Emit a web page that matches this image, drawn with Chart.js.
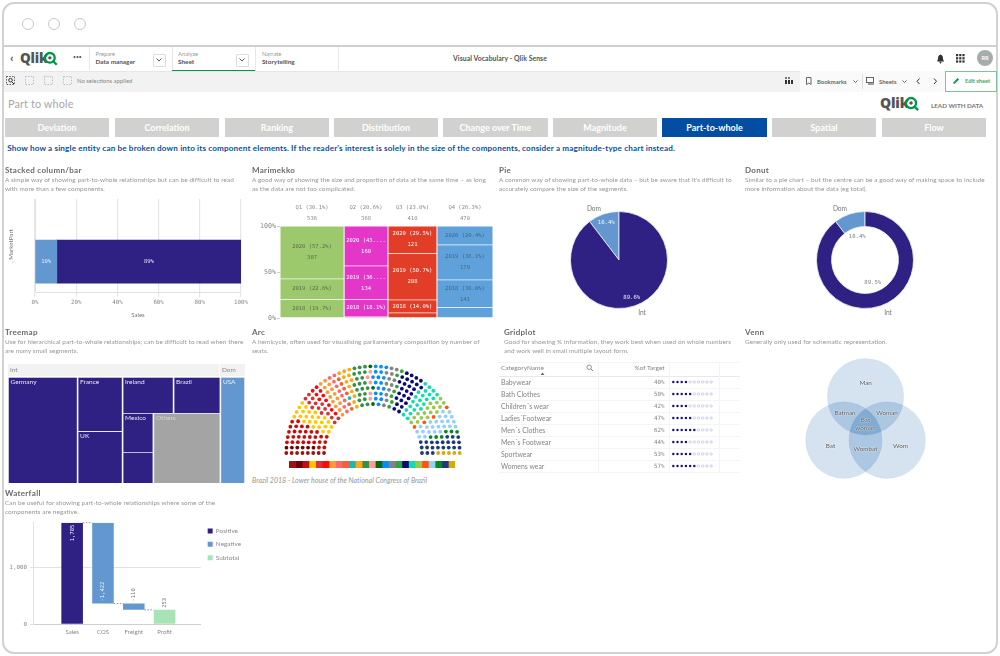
<!DOCTYPE html>
<html><head><meta charset="utf-8">
<script src="https://cdn.jsdelivr.net/npm/chart.js@4/dist/chart.umd.min.js"></script>
<style>
html,body{margin:0;padding:0;background:#fff;width:1000px;height:656px;overflow:hidden}
#page{position:absolute;left:0;top:0;width:1000px;height:656px;font-family:Lato,"Noto Sans",sans-serif;color:#777;filter:blur(.35px)}
#page div,#page canvas,#page svg{position:absolute}
.t{white-space:nowrap;line-height:10px;height:10px}
.h{font-weight:700;font-size:8px;color:#6a6a6a;letter-spacing:.3px}
.d{font-size:6.45px;color:#969696;letter-spacing:.06px}
.nav{background:#d1d1d0;color:#fff;font-weight:700;font-size:9px;text-align:center;line-height:19px;height:19px;top:118px}
.g{font-size:6.5px;color:#858585}
.r{font-size:6.9px;color:#858585}
.v{font-size:6.3px;color:#555;text-align:center;text-shadow:0 0 1.5px #fff,0 0 1.5px #fff;transform:translate(-50%,0)}
</style></head><body><div id="page"></div>
<script>
// ---------- data ----------
const marketParts = ['Dom', 'Int'];
const stackedShares = [10.6, 89.4];
const stackedText = ['10%', '89%'];

const quarters = ['Q1', 'Q2', 'Q3', 'Q4'];
const quarterShare = [30.1, 20.6, 23.0, 26.3];
const quarterTotal = [536, 368, 410, 470];
const mekkoYears = ['', '2018', '2019', '2020'];
const mekkoShareBase = [0.5, 2.2, 5.8, 11.5];
const mekkoShare2018 = [19.7, 18.1, 14.0, 30.0];
const mekkoShare2019 = [22.6, 36.4, 50.7, 38.1];
const mekkoShare2020 = [57.2, 43.3, 29.5, 20.4];
const mekkoValueBase = [2, 7, 24, 54];
const mekkoValue2018 = [106, 67, 57, 141];
const mekkoValue2019 = [121, 134, 208, 179];
const mekkoValue2020 = [307, 160, 121, 96];

const pieLabels = ['Dom', 'Int'];
const pieValues = [10.4, 89.6];
const donutValues = [10.4, 89.5];

const treeNames = ['Germany', 'France', 'UK', 'Ireland', 'Brazil', 'Mexico', '', 'Others', 'USA'];
const treeValues = [29.4, 9.7, 9.3, 7.3, 6.7, 4.8, 3.8, 18.7, 10.4];

const partySeats = [8, 6, 30, 24, 14, 10, 14, 9, 6, 1, 12, 20, 5, 3, 17, 12, 7, 26, 22, 16, 4, 24, 6, 22, 5];
const partyColors = ['#a01010', '#6e0404', '#c80c0c', '#ffc800', '#d83434', '#fb0a0a', '#ff9a35', '#ff6868', '#ee6238', '#18b8b8', '#ffa812', '#379048', '#ff9a9a', '#056a05', '#0a8cff', '#848484', '#33a43f', '#0a0a78', '#12deaa', '#99c84e', '#ff5510', '#93d0ff', '#078a20', '#1f3a7a', '#d8aa08'];

const gridCategories = ['Babywear', 'Bath Clothes', "Children´s wear", "Ladies´Footwear", "Men´s Clothes", "Men´s Footwear", 'Sportwear', 'Womens wear'];
const gridPercents = [40, 50, 42, 47, 62, 44, 53, 57];

const vennNames = ['Bat', 'Man', 'Wom'];
const vennX = [-0.5, 0, 0.5];
const vennY = [0, 1, 0];

const wfLabels = ['Sales', 'COS', 'Freight', 'Profit'];
const wfValues = [1785, -1422, -110, 253];

const navItems = ['Deviation', 'Correlation', 'Ranking', 'Distribution', 'Change over Time', 'Magnitude', 'Part-to-whole', 'Spatial', 'Flow'];

// ---------- page helpers ----------
const page = document.getElementById('page');
function box(x, y, w, h, css) { const e = document.createElement('div'); e.style.cssText = `left:${x}px;top:${y}px;width:${w}px;height:${h}px;${css || ''}`; page.appendChild(e); return e; }
function t(x, y, s, cls, css) { const e = document.createElement('div'); e.className = 't ' + (cls || ''); e.textContent = s; e.style.cssText = `left:${x}px;top:${y - 5}px;${css || ''}`; page.appendChild(e); return e; }
function svg(x, y, w, h, inner) { const d = document.createElement('div'); d.style.cssText = `left:${x}px;top:${y}px;width:${w}px;height:${h}px`; d.innerHTML = `<svg width="${w}" height="${h}" viewBox="0 0 ${w} ${h}" style="left:0;top:0">${inner}</svg>`; page.appendChild(d); }
function logo(x, y, s, col) {
  t(x, y, 'Qlik', '', `font-size:${s}px;font-weight:900;color:${col};letter-spacing:-.2px;font-family:"Noto Sans"`);
  const cx = x + s * 2.23, r = s * .36;
  svg(cx - r - 3, y - r - 3, 2 * r + 8, 2 * r + 8, `<circle cx="${r + 3}" cy="${r + 3}" r="${r}" fill="none" stroke="#009845" stroke-width="${s * .17}"/><circle cx="${r + 3}" cy="${r + 3}" r="${r * .35}" fill="#555"/><path d="M${r * 1.55 + 3} ${r * 1.55 + 3}L${2 * r + 5} ${2 * r + 5}" stroke="#009845" stroke-width="${s * .17}"/>`);
}

// frame & chrome
box(2, 2, 992, 648, 'border:2px solid #d2d2d2;border-radius:12px;background:#fff');
[28, 54, 80].forEach(x => box(x - 6, 18, 10, 10, 'border:1.5px solid #c8c8c8;border-radius:50%;background:#fff'));
box(3, 45, 994, 2, 'background:#cfcfcf');
box(4, 47, 992, 23.5, 'background:#fff');
box(172, 69.5, 83, 1.5, 'background:#009845;z-index:2');
[89, 172, 255, 338].forEach(x => box(x, 47, .6, 23, 'background:#e6e6e6'));
t(10, 58, '‹', '', 'font-size:12px;font-weight:700;color:#555');
logo(20, 58, 13.5, '#555');
t(73, 57, '•••', '', 'font-size:5px;color:#555');
t(95.5, 53.5, 'Prepare', '', 'font-size:5.8px;color:#999');
t(95.5, 62, 'Data manager', '', 'font-size:6.4px;color:#555;font-weight:700');
t(178, 53.5, 'Analyze', '', 'font-size:5.8px;color:#999');
t(178, 62, 'Sheet', '', 'font-size:6.4px;color:#555;font-weight:700');
t(262, 53.5, 'Narrate', '', 'font-size:5.8px;color:#999');
t(262, 62, 'Storytelling', '', 'font-size:6.4px;color:#555;font-weight:700');
[153, 236].forEach(x => { box(x, 54, 11, 11, 'border:.7px solid #ddd;border-radius:1px'); svg(x + 3, 58, 7, 4, '<path d="M.5 .5L3 3L5.5 .5" fill="none" stroke="#444" stroke-width=".9"/>'); });
t(453, 58, 'Visual Vocabulary - Qlik Sense', '', 'font-size:6.9px;color:#555;font-weight:700;letter-spacing:.05px');
svg(936, 54, 9, 10, '<path d="M4.5 .5C2.3 1 2 3 2 5L1 7.5H8L7 5C7 3 6.7 1 4.5 .5Z" fill="#333"/><circle cx="4.5" cy="8.6" r="1" fill="#333"/>');
svg(956, 54, 9, 9, [0, 1, 2].flatMap(i => [0, 1, 2].map(j => `<rect x="${i * 3.2}" y="${j * 3.2}" width="2.2" height="2.2" fill="#333"/>`)).join(''));
box(977, 50, 16, 16, 'background:#a3adad;border-radius:50%;color:#fff;font-size:5.5px;text-align:center;line-height:16px;font-weight:700').textContent = 'RR';
box(4, 71, 992, 21, 'background:#f2f2f2');
box(4, 70.5, 992, .6, 'background:#e6e6e6');
box(800, 71, 145, 21, 'background:#fafafa');
svg(6, 76, 10, 10, '<rect x=".5" y=".5" width="8" height="8" fill="none" stroke="#555" stroke-dasharray="1.4 1.4"/><circle cx="4.5" cy="4.2" r="1.8" fill="none" stroke="#333"/><path d="M6 6L8 8" stroke="#333"/>');
[25, 44, 63].forEach(x => svg(x, 76, 10, 10, '<rect x=".5" y=".5" width="8" height="8" fill="none" stroke="#bbb" stroke-dasharray="1.4 1.4"/>'));
t(77, 81, 'No selections applied', '', 'font-size:5.9px;color:#888');
svg(785, 77, 9, 9, '<rect x="0" y="0" width="2" height="2" fill="#777"/><rect x="3" y="0" width="2" height="2" fill="#777"/><rect x="0" y="3" width="2" height="4" fill="#333"/><rect x="3" y="3" width="2" height="4" fill="#333"/><rect x="6" y="3" width="2" height="4" fill="#333"/>');
svg(806, 77, 6, 9, '<path d="M.5 .5H5V7.5L2.8 6L.5 7.5Z" fill="none" stroke="#444" stroke-width=".8"/>');
t(817, 82, 'Bookmarks', '', 'font-size:5.9px;color:#666;font-weight:700');
svg(853, 80, 6, 4, '<path d="M.5 .5L2.5 2.5L4.5 .5" fill="none" stroke="#444" stroke-width=".8"/>');
box(862, 74, .6, 15, 'background:#ddd');
svg(866, 77, 9, 8, '<rect x=".5" y=".5" width="7" height="5" fill="none" stroke="#444" stroke-width=".8"/><path d="M2 7H8" stroke="#444"/>');
t(879, 82, 'Sheets', '', 'font-size:5.9px;color:#666;font-weight:700');
svg(902, 80, 6, 4, '<path d="M.5 .5L2.5 2.5L4.5 .5" fill="none" stroke="#444" stroke-width=".8"/>');
svg(916, 78, 5, 7, '<path d="M3.5 .5L1 3.3L3.5 6" fill="none" stroke="#333" stroke-width="1"/>');
svg(933, 78, 5, 7, '<path d="M1 .5L3.5 3.3L1 6" fill="none" stroke="#333" stroke-width="1"/>');
box(945, 70.5, 52, 21, 'border:.8px solid #7cc59b;background:#fff;box-sizing:border-box');
svg(952, 77, 8, 8, '<path d="M1 6L5.5 1L7 2.5L2.5 7Z" fill="#0a9a4b"/>');
t(965, 81, 'Edit sheet', '', 'font-size:5.7px;color:#3aa869;font-weight:700');
t(8, 103.5, 'Part to whole', '', 'font-size:10.9px;color:#a8a8a8;letter-spacing:.1px');
logo(880, 103, 14, '#555');
t(931, 105.5, 'LEAD WITH DATA', '', 'font-size:6.3px;color:#777;font-weight:700;letter-spacing:-.02px');
const navX = [5, 115, 225, 334, 443, 553, 662, 772, 882], navW = [104, 104, 104, 104, 105, 104, 105, 104, 104];
navItems.forEach((n, i) => { const b = box(navX[i], 118, navW[i], 19, ''); b.className = 'nav'; b.textContent = n; if (n === 'Part-to-whole') b.style.background = '#034ea2'; });
t(7.3, 148, "Show how a single entity can be broken down into its component elements. If the reader's interest is solely in the size of the components, consider a magnitude-type chart instead.", '', 'font-size:8.15px;font-weight:700;color:#0b4fa0;letter-spacing:.146px');

[[5, 170, 'Stacked column/bar', 'A simple way of showing part-to-whole relationships but can be difficult to read', 'with more than a few components.'],
 [252, 170, 'Marimekko', 'A good way of showing the size and proportion of data at the same time – as long', 'as the data are not too complicated.'],
 [499, 170, 'Pie', "A common way of showing part-to-whole data – but be aware that it's difficult to", 'accurately compare the size of the segments.'],
 [745, 170, 'Donut', 'Similar to a pie chart – but the centre can be a good way of making space to include', 'more information about the data (eg total).'],
 [5, 332, 'Treemap', 'Use for hierarchical part-to-whole relationships; can be difficult to read when there', 'are many small segments.'],
 [252, 332, 'Arc', 'A hemicycle, often used for visualising parliamentary composition by number of', 'seats.'],
 [504, 332, 'Gridplot', 'Good for showing % information, they work best when used on whole numbers', 'and work well in small multiple layout form.'],
 [745, 332, 'Venn', 'Generally only used for schematic representation.', ''],
 [5, 493, 'Waterfall', 'Can be useful for showing part-to-whole relationships where some of the', 'components are negative.']
].forEach(p => { t(p[0], p[1], p[2], 'h'); t(p[0], p[1] + 9.8, p[3], 'd'); if (p[4]) t(p[0], p[1] + 19, p[4], 'd'); });

// ---------- chart helpers ----------
Chart.defaults.animation = false;
Chart.defaults.responsive = false;
Chart.defaults.layout.autoPadding = false;
Chart.defaults.font.family = 'Lato, "Noto Sans", sans-serif';
Chart.defaults.font.size = 6;
Chart.defaults.color = '#8a8a8a';
Chart.defaults.plugins.tooltip.enabled = false;
Chart.defaults.plugins.legend.display = false;
const monoFont = { family: '"DejaVu Sans Mono"', size: 5.5 };
const tickFont = { family: '"DejaVu Sans Mono"', size: 5.8 };
function mount(x, y, w, h, cfg) {
  const c = document.createElement('canvas');
  c.width = w; c.height = h;
  c.style.cssText = `left:${x}px;top:${y}px;width:${w}px;height:${h}px`;
  page.appendChild(c);
  return new Chart(c, cfg);
}
// bars whose horizontal span comes from the x scale (raw.x0 .. raw.x1)
const spanBars = { id: 'spanBars', afterDatasetsUpdate(ch) {
  ch.getSortedVisibleDatasetMetas().forEach(m => m.data.forEach((el, i) => {
    const r = ch.data.datasets[m.index].data[i];
    const a = ch.scales.x.getPixelForValue(r.x0), b = ch.scales.x.getPixelForValue(r.x1);
    el.x = (a + b) / 2; el.width = Math.abs(b - a);
  }));
} };

// ---------- 1. stacked bar ----------
mount(0, 195, 250, 130, {
  type: 'bar',
  data: { datasets: marketParts.map((n, i) => ({ label: n, data: [{ x: stackedShares[i], y: 0 }], backgroundColor: ['#6298cf', '#2f2184'][i], barThickness: 43, text: stackedText[i], borderWidth: 0 })) },
  options: {
    indexAxis: 'y', layout: { padding: { top: 4, right: 4, bottom: 6 } },
    scales: {
      x: { type: 'linear', stacked: true, min: 0, max: 100, ticks: { stepSize: 20, callback: v => v + '%', font: tickFont, color: '#888', padding: 2, maxRotation: 0 }, grid: { color: '#e6e6e6', lineWidth: 1.2, tickLength: 4 }, border: { color: '#e0e0e0' }, title: { display: true, text: 'Sales', color: '#777', font: { size: 6 }, padding: { top: 4, bottom: 0 } } },
      y: { type: 'linear', stacked: true, offset: false, min: -1, max: 2, ticks: { display: false }, grid: { display: false }, border: { color: '#e0e0e0' }, title: { display: true, text: ', MarketPart', color: '#777', font: { size: 6.2 }, padding: { top: 7, bottom: 0 } }, afterFit(s) { s.width = 35; } }
    }
  },
  plugins: [{ id: 'stackText', afterDatasetsDraw(ch) {
    const c = ch.ctx; c.save(); c.font = `${monoFont.size}px ${monoFont.family}`; c.fillStyle = '#e8e8f4'; c.textAlign = 'center'; c.textBaseline = 'middle';
    ch.getSortedVisibleDatasetMetas().forEach(m => { const el = m.data[0], ds = ch.data.datasets[m.index]; c.fillText(ds.text, (el.x + el.base) / 2, el.y); });
    c.restore();
  } }]
});

// ---------- 2. marimekko ----------
const mekkoColors = ['#9cc96c', '#e436c8', '#e23d26', '#5fa2db'];
const mekkoText = ['#5e6a50', '#ffffff', '#ffffff', '#4c6378'];
const mekkoSeries = [[mekkoShareBase, mekkoValueBase], [mekkoShare2018, mekkoValue2018], [mekkoShare2019, mekkoValue2019], [mekkoShare2020, mekkoValue2020]];
const mekkoCut = new Set(['2020|1', '2019|1']);
let xCursor = 0; const mekkoX = quarterShare.map(s => { const a = xCursor; xCursor += s; return [a, xCursor]; });
const mekkoY = quarters.map(() => 0);
mount(250, 200, 245, 123, {
  type: 'bar',
  data: { datasets: mekkoSeries.map((ser, k) => ({
    label: mekkoYears[k], backgroundColor: mekkoColors, borderColor: 'rgba(255,255,255,.45)', borderWidth: .5, grouped: false,
    data: quarters.map((q, i) => { const lo = mekkoY[i]; mekkoY[i] += ser[0][i]; return { x: (mekkoX[i][0] + mekkoX[i][1]) / 2, x0: mekkoX[i][0], x1: mekkoX[i][1], y: [lo, mekkoY[i]], share: ser[0][i], val: ser[1][i] }; })
  })) },
  options: {
    layout: { padding: { top: 26, right: 2, bottom: 2 } },
    scales: {
      x: { type: 'linear', offset: false, display: false, min: 0, max: 100 },
      y: { min: 0, max: 100, ticks: { stepSize: 50, callback: v => v + '%', font: { family: monoFont.family, size: 6.6 }, color: '#888', padding: 1 }, grid: { drawOnChartArea: false, color: '#ccc', tickLength: 3 }, border: { display: false }, afterFit(s) { s.width = 30; } }
    }
  },
  plugins: [spanBars, { id: 'mekkoText', afterDatasetsDraw(ch) {
    const c = ch.ctx, f = `${monoFont.size}px ${monoFont.family}`; c.save(); c.font = f; c.textAlign = 'center'; c.textBaseline = 'middle';
    ch.getSortedVisibleDatasetMetas().forEach(m => {
      const yr = mekkoYears[m.index]; if (!yr) return;
      m.data.forEach((el, i) => {
        const r = ch.data.datasets[m.index].data[i];
        let s = `${yr} (${r.share.toFixed(1)}%)`; if (mekkoCut.has(yr + '|' + i)) s = s.slice(0, 9) + '...';
        const two = r.share >= 25, mid = (el.y + el.base) / 2;
        c.fillStyle = mekkoText[i];
        c.fillText(s, el.x, two ? mid - 5.5 : mid);
        if (two) c.fillText(String(r.val), el.x, mid + 5.5);
      });
    });
    c.fillStyle = '#8a8a8a';
    quarters.forEach((q, i) => {
      const x = ch.scales.x.getPixelForValue((mekkoX[i][0] + mekkoX[i][1]) / 2);
      c.fillText(`${q} (${quarterShare[i].toFixed(1)}%)`, x, ch.chartArea.top - 18);
      c.fillText(String(quarterTotal[i]), x, ch.chartArea.top - 7.5);
    });
    c.restore();
  } }]
});

// ---------- 3/4. pie & donut ----------
const arcText = { id: 'arcText', afterDatasetsDraw(ch, _, o) {
  const c = ch.ctx, m = ch.getDatasetMeta(0); c.save(); c.textAlign = 'center'; c.textBaseline = 'middle';
  m.data.forEach((el, i) => {
    const mid = (el.startAngle + el.endAngle) / 2, ca = Math.cos(mid), sa = Math.sin(mid), R = el.outerRadius;
    c.font = `${monoFont.size + .1}px ${monoFont.family}`; c.fillStyle = o.inner;
    c.fillText(ch.data.datasets[0].data[i].toFixed(1) + '%', el.x + ca * R * o.k, el.y + sa * R * o.k);
    c.font = '6.6px Lato'; c.fillStyle = '#777';
    c.fillText(ch.data.labels[i], el.x + ca * R * 1.16 + (ca < 0 ? -7 : 5), el.y + sa * R * 1.15 + (sa < 0 ? 1.5 : 0));
  });
  c.restore();
} };
function ring(cx, vals, cut, inner, k) {
  mount(cx - 65, 195, 130, 130, { type: 'doughnut',
    data: { labels: pieLabels, datasets: [{ data: vals, backgroundColor: ['#6298cf', '#2f2184'], borderColor: '#eef1f6', borderWidth: .8, radius: 48.5, cutout: cut }] },
    options: { rotation: -vals[0] * 3.6, plugins: { arcText: { inner, k } } }, plugins: [arcText] });
}
ring(619, pieValues, 0, '#eef2fa', .82);
ring(865.3, donutValues, '69%', '#808080', .5);

// ---------- 5. treemap ----------
box(7.5, 364, 211.5, 11.5, 'background:#f2f2f2');
box(220, 364, 24.5, 11.5, 'background:#f2f2f2');
t(10, 369.5, 'Int', '', 'font-size:6.4px;color:#888');
t(222, 369.5, 'Dom', '', 'font-size:6.4px;color:#888');
const treeShape = ['x', ['x', 0, ['y', 1, 2], ['y', ['x', 3, 4], ['x', ['y', 5, 6], 7]]], 8];
const treeSum = n => typeof n === 'number' ? treeValues[n] : n.slice(1).reduce((a, k) => a + treeSum(k), 0);
const treeRects = [];
(function place(n, x0, x1, y0, y1) {
  if (typeof n === 'number') { treeRects.push({ x: (x0 + x1) / 2, x0, x1, y: [y0, y1], i: n }); return; }
  const tot = treeSum(n); let pos = n[0] === 'x' ? x0 : y1;
  n.slice(1).forEach(k => {
    const f = treeSum(k) / tot;
    if (n[0] === 'x') { const e = pos + (x1 - x0) * f; place(k, pos, e, y0, y1); pos = e; }
    else { const e = pos - (y1 - y0) * f; place(k, x0, x1, e, pos); pos = e; }
  });
})(treeShape, 0, 100, 0, 100);
const treeCol = r => r.i === 8 ? '#6298cf' : r.i === 7 ? '#a4a4a4' : '#2f2184';
mount(7.5, 376.5, 237, 106, {
  type: 'bar',
  data: { datasets: [{ data: treeRects, grouped: false, backgroundColor: treeRects.map(treeCol), borderColor: 'rgba(225,225,240,.65)', borderWidth: .8 }] },
  options: { scales: { x: { type: 'linear', offset: false, display: false, min: 0, max: 100 }, y: { display: false, min: 0, max: 100 } } },
  plugins: [spanBars, { id: 'treeText', afterDatasetsDraw(ch) {
    const c = ch.ctx; c.save(); c.font = '6.5px Lato'; c.textBaseline = 'middle';
    ch.getDatasetMeta(0).data.forEach((el, k) => { const r = treeRects[k]; c.fillStyle = r.i === 7 ? '#d4d4d4' : r.i === 8 ? '#e4eefa' : '#e6e6f4'; c.fillText(treeNames[r.i], el.x - el.width / 2 + 2.5, el.y + 5); });
    c.restore();
  } }]
});

// ---------- 6. arc ----------
const arcRows = 8, arcInner = 0.565;
const seatTotal = partySeats.reduce((a, b) => a + b, 0);
const rowR = Array.from({ length: arcRows }, (_, i) => arcInner + (1 - arcInner) * i / (arcRows - 1));
const rowSum = rowR.reduce((a, b) => a + b, 0);
let placed = 0; const seats = [];
rowR.forEach((r, i) => {
  const n = i === arcRows - 1 ? seatTotal - placed : Math.round(seatTotal * r / rowSum); placed += n;
  for (let j = 0; j < n; j++) { const a = Math.PI * (1 - j / (n - 1)); seats.push({ x: r * Math.cos(a), y: r * Math.sin(a), a }); }
});
seats.sort((p, q) => q.a - p.a);
let seatCursor = 0;
mount(280, 360, 186, 98, {
  type: 'scatter',
  data: { datasets: partySeats.map((n, i) => { const d = seats.slice(seatCursor, seatCursor + n); seatCursor += n; return { data: d, backgroundColor: partyColors[i], pointRadius: 1.9, pointBorderWidth: 0 }; }) },
  options: { scales: { x: { display: false, min: -1.0727, max: 1.0727 }, y: { display: false, min: -0.0577, max: 1.0727 } } }
});
mount(289, 460.5, 166, 7, {
  type: 'bar',
  data: { labels: ['Parties'], datasets: partySeats.map((n, i) => ({ data: [1], backgroundColor: partyColors[i], borderWidth: 0, barPercentage: 1, categoryPercentage: 1 })) },
  options: { indexAxis: 'y', scales: { x: { display: false, stacked: true, min: 0, max: partySeats.length }, y: { display: false, stacked: true } } }
});
t(252, 479.5, 'Brazil 2018 - Lower house of the National Congress of Brazil', '', 'font-size:7px;color:#969696;font-style:italic;letter-spacing:.02px');

// ---------- 7. gridplot ----------
box(499, 361.5, 241, .6, 'background:#f4f4f4');
box(499, 375.5, 241, 1.2, 'background:#e8e8e8');
[598, 669, 719].forEach(x => box(x, 362, .7, 110, 'background:#f3f3f3'));
t(501, 368, 'CategoryName', 'g');
svg(586, 364, 8, 8, '<circle cx="3.2" cy="3.2" r="2.2" fill="none" stroke="#777" stroke-width=".8"/><path d="M5 5L7 7" stroke="#777" stroke-width=".9"/>');
svg(540, 372, 5, 4, '<path d="M2.5 .5L4.5 3H.5Z" fill="#666"/>');
t(634.5, 368, '%of Target', 'g');
gridCategories.forEach((n, i) => {
  const y = 382 + i * 12;
  box(499, y + 5.8, 241, .6, 'background:#f4f4f4');
  t(501, y, n, 'r');
  t(652.5, y, gridPercents[i] + '%', 'g', 'font-family:"DejaVu Sans Mono";font-size:5.8px;width:12px;text-align:right');
});
const gridSlots = [0, 1, 2, 3, 4, 5, 6, 7, 8, 9];
const gridFilled = [], gridEmpty = [];
gridPercents.forEach((p, r) => gridSlots.forEach(s => (s < Math.round(p / 10) ? gridFilled : gridEmpty).push({ x: s, y: r })));
mount(671, 376, 42, 96, {
  type: 'scatter',
  data: { datasets: [
    { data: gridFilled, pointRadius: 1.25, backgroundColor: '#1d128e', pointBorderWidth: 0 },
    { data: gridEmpty, pointRadius: 1.3, backgroundColor: '#eef0fb', borderColor: '#b9bfe2', pointBorderWidth: .5 }
  ] },
  options: { scales: { x: { display: false, min: -.55, max: 9.45 }, y: { display: false, reverse: true, min: -.5, max: 7.5 } } }
});

// ---------- 8. venn ----------
const vennR = 38.3;
const vennPts = vennNames.map((n, i) => ({ x: vennX[i], y: vennY[i], r: vennR }));
mount(800, 350, 131, 132, {
  type: 'bubble',
  data: { datasets: [
    { data: vennPts, backgroundColor: 'rgb(42,28,15)', borderWidth: 0, diff: true },
    { data: vennPts, backgroundColor: 'transparent', borderColor: '#f2f6fb', borderWidth: .8 }
  ] },
  options: { scales: { x: { display: false, min: -1.513, max: 1.513 }, y: { display: false, min: -0.964, max: 2.076 } } },
  plugins: [{ id: 'vennMix',
    beforeDraw(ch) { const c = ch.ctx; c.save(); c.fillStyle = '#fff'; c.fillRect(0, 0, ch.width, ch.height); c.restore(); },
    beforeDatasetDraw(ch, a) { if (ch.data.datasets[a.index].diff) ch.ctx.globalCompositeOperation = 'difference'; },
    afterDatasetDraw(ch) { ch.ctx.globalCompositeOperation = 'source-over'; }
  }]
});
[[865.7, 382.5, 'Man'], [845, 412.5, 'Batman'], [887, 412.5, 'Woman'], [865.5, 419.5, 'Bat'], [865.5, 428, 'woman'], [830.5, 446, 'Bat'], [865.5, 449, 'Wombat'], [900.5, 446, 'Wom']].forEach(v => t(v[0], v[1], v[2], 'v'));

// ---------- 9. waterfall ----------
let wfRun = 0;
const wfBars = wfValues.map((v, i) => { const last = i === wfValues.length - 1; const lo = last ? 0 : Math.min(wfRun, wfRun + v), hi = last ? v : Math.max(wfRun, wfRun + v); if (!last) wfRun += v; return { x: i, y: [lo, hi], v }; });
const fmtWf = v => (v < 0 ? '-' : '') + Math.abs(v).toLocaleString('en-US');
mount(0, 515, 253, 133, {
  type: 'bar',
  data: { datasets: [
    { label: 'Positive', data: wfBars.filter((b, i) => b.v > 0 && i < wfBars.length - 1), backgroundColor: '#2f2184' },
    { label: 'Negative', data: wfBars.filter(b => b.v < 0), backgroundColor: '#6298cf' },
    { label: 'Subtotal', data: wfBars.filter((b, i) => i === wfBars.length - 1), backgroundColor: '#a7e3b5' }
  ].map(d => ({ ...d, grouped: false, barPercentage: .7, categoryPercentage: 1, borderWidth: 0 })) },
  options: {
    layout: { padding: { top: 7.7, right: 2, bottom: 7.6 } },
    plugins: { legend: { display: true, position: 'right', align: 'start', labels: { boxWidth: 5, boxHeight: 5, padding: 7, color: '#8a8a8a', font: { size: 6.4 } } } },
    scales: {
      x: { type: 'linear', offset: false, min: -1.27, max: 4.17, afterBuildTicks(s) { s.ticks = wfLabels.map((_, i) => ({ value: i })); }, ticks: { autoSkip: false, maxRotation: 0, callback: v => wfLabels[v], color: '#888', font: { size: 6 }, padding: 4.5 }, grid: { display: false, tickLength: 0, drawTicks: false }, border: { color: '#cfcfcf', width: 1 } },
      y: { min: 0, max: 1785, afterBuildTicks(s) { s.ticks = [{ value: 0 }, { value: 1000 }]; }, ticks: { callback: v => v.toLocaleString('en-US'), font: tickFont, color: '#888', padding: 3 }, grid: { color: '#e2e2e2', tickLength: 3 }, border: { color: '#e0e0e0' }, afterFit(s) { s.width = 33; } }
    }
  },
  plugins: [{ id: 'wfLinks',
    afterLayout(ch) { ch.legend.top -= 2; ch.legend.bottom -= 2; },
    afterDatasetsDraw(ch) {
    const c = ch.ctx, sx = ch.scales.x, sy = ch.scales.y; c.save();
    c.strokeStyle = '#777'; c.lineWidth = .8; c.setLineDash([1.5, 1.5]);
    let run = 0;
    wfValues.slice(0, -1).forEach((v, i) => { run += v; const y = sy.getPixelForValue(run); c.beginPath(); c.moveTo(sx.getPixelForValue(i) + 10.7, y); c.lineTo(sx.getPixelForValue(i + 1) - 10.7, y); c.stroke(); });
    c.setLineDash([]); c.font = `${monoFont.size}px ${monoFont.family}`; c.textBaseline = 'middle';
    wfBars.forEach((b, i) => {
      const x = sx.getPixelForValue(i), top = sy.getPixelForValue(b.y[1]), bot = sy.getPixelForValue(b.y[0]), big = top < bot - 40;
      c.save();
      if (big) { const atTop = b.v > 0; c.translate(x, atTop ? top + 2 : bot - 2); c.rotate(-Math.PI / 2); c.textAlign = atTop ? 'right' : 'left'; c.fillStyle = '#eef2fa'; }
      else { c.translate(x, top - 2); c.rotate(-Math.PI / 2); c.textAlign = 'left'; c.fillStyle = '#777'; }
      c.fillText(fmtWf(b.v), 0, 0);
      c.restore();
    });
    c.restore();
  } }]
});
</script></body></html>
